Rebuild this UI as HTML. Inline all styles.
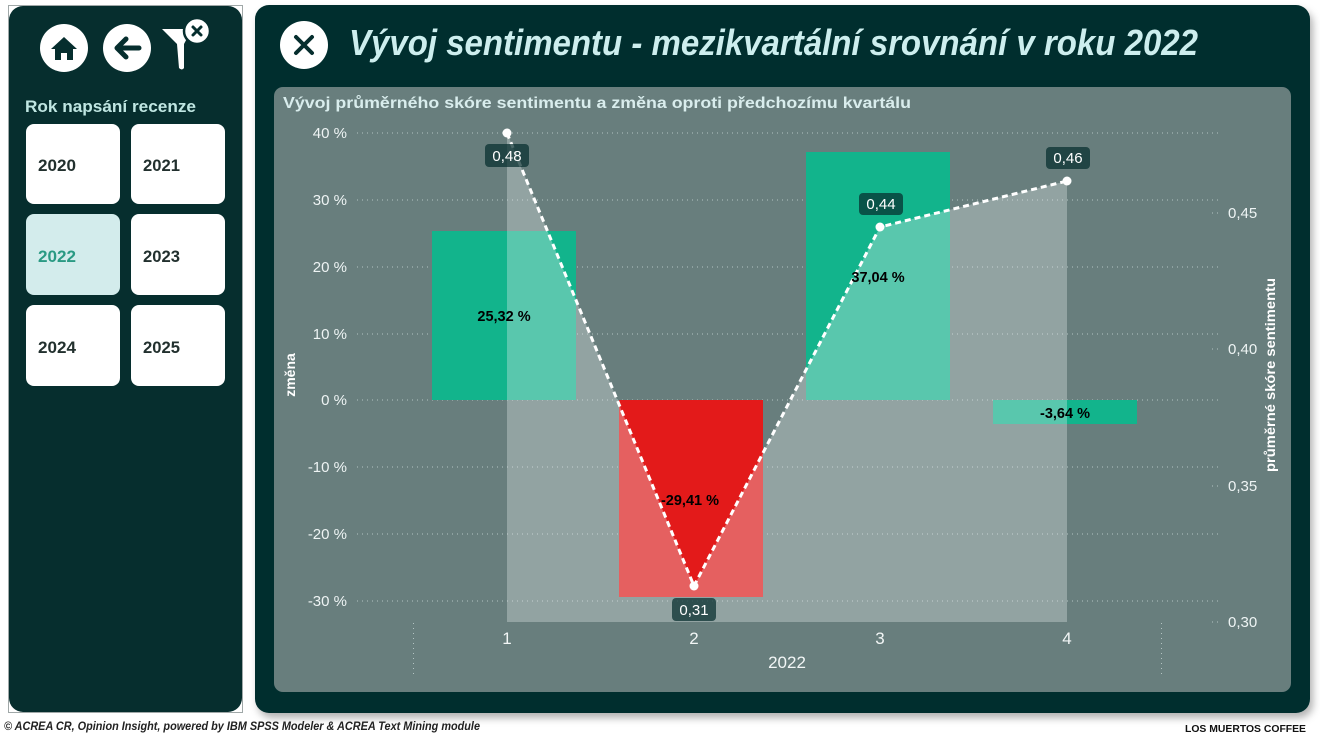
<!DOCTYPE html>
<html><head><meta charset="utf-8">
<style>
html,body{margin:0;padding:0;background:#fff;}
svg{display:block;}
text{font-family:"Liberation Sans",sans-serif;}
</style></head>
<body>
<svg width="1320" height="737" viewBox="0 0 1320 737" xmlns="http://www.w3.org/2000/svg">
<defs>
<filter id="sh" x="-5%" y="-5%" width="110%" height="115%">
<feDropShadow dx="3" dy="5" stdDeviation="4" flood-color="#000" flood-opacity="0.3"/>
</filter>
</defs>
<rect width="1320" height="737" fill="#ffffff"/>

<!-- Left panel -->
<rect x="8.5" y="5.5" width="234" height="707" fill="none" stroke="#a0a8a8" stroke-width="1"/>
<rect x="9" y="6" width="233" height="706" rx="14" fill="#062e2e"/>

<!-- home icon -->
<circle cx="64" cy="48" r="24" fill="#ffffff"/>
<path d="M51 49 L64 37 L77 49 L73 49 L73 60 L67 60 L67 53 L61 53 L61 60 L55 60 L55 49 Z" fill="#062e2e"/>
<!-- back icon -->
<circle cx="127" cy="48" r="24" fill="#ffffff"/>
<path d="M139 48 L118 48 M126 39 L117 48 L126 57" stroke="#062e2e" stroke-width="5" fill="none" stroke-linecap="round" stroke-linejoin="round"/>
<!-- filter icon -->
<path d="M162 29 L192 29 L184 44 L184 68 Q182 71 179 68 L177 44 Z" fill="#ffffff"/>
<circle cx="197" cy="31" r="13" fill="#ffffff" stroke="#062e2e" stroke-width="2.5"/>
<path d="M193 27 L201 35 M201 27 L193 35" stroke="#062e2e" stroke-width="3" stroke-linecap="round"/>

<text x="25" y="112" font-size="17" font-weight="bold" fill="#bfe6e2" textLength="171" lengthAdjust="spacingAndGlyphs">Rok napsání recenze</text>

<rect x="26" y="124" width="94" height="80" rx="8" fill="#ffffff"/>
<rect x="131" y="124" width="94" height="80" rx="8" fill="#ffffff"/>
<rect x="26" y="214" width="94" height="81" rx="8" fill="#d3ecec"/>
<rect x="131" y="214" width="94" height="81" rx="8" fill="#ffffff"/>
<rect x="26" y="305" width="94" height="81" rx="8" fill="#ffffff"/>
<rect x="131" y="305" width="94" height="81" rx="8" fill="#ffffff"/>
<g font-size="17" font-weight="bold" fill="#22302e">
<text x="38" y="171" textLength="38" lengthAdjust="spacingAndGlyphs">2020</text>
<text x="143" y="171" textLength="37" lengthAdjust="spacingAndGlyphs">2021</text>
<text x="38" y="262" textLength="38" lengthAdjust="spacingAndGlyphs" fill="#2a9a84">2022</text>
<text x="143" y="262" textLength="37" lengthAdjust="spacingAndGlyphs">2023</text>
<text x="38" y="353" textLength="38" lengthAdjust="spacingAndGlyphs">2024</text>
<text x="143" y="353" textLength="37" lengthAdjust="spacingAndGlyphs">2025</text>
</g>

<!-- Main panel -->
<rect x="255" y="5" width="1055" height="708" rx="14" fill="#062e2e" filter="url(#sh)"/>
<circle cx="304" cy="45" r="24" fill="#ffffff"/>
<path d="M296 37 L312 53 M312 37 L296 53" stroke="#062e2e" stroke-width="4" stroke-linecap="round"/>
<text x="349" y="55" font-size="36" font-style="italic" font-weight="bold" fill="#cdeeee" textLength="849" lengthAdjust="spacingAndGlyphs">Vývoj sentimentu - mezikvartální srovnání v roku 2022</text>

<!-- Chart card -->
<rect x="274" y="87" width="1017" height="605" rx="9" fill="#687e7d"/>
<text x="283" y="108" font-size="15.5" font-weight="bold" fill="#d9eded" textLength="628" lengthAdjust="spacingAndGlyphs">Vývoj průměrného skóre sentimentu a změna oproti předchozímu kvartálu</text>

<!-- gridlines -->
<g stroke="#c8d6d5" stroke-width="1" stroke-dasharray="1,4" opacity="0.8">
<line x1="357" y1="133" x2="1218" y2="133"/>
<line x1="357" y1="200" x2="1218" y2="200"/>
<line x1="357" y1="267" x2="1218" y2="267"/>
<line x1="357" y1="334" x2="1218" y2="334"/>
<line x1="357" y1="400" x2="1218" y2="400"/>
<line x1="357" y1="467" x2="1218" y2="467"/>
<line x1="357" y1="534" x2="1218" y2="534"/>
<line x1="357" y1="601" x2="1218" y2="601"/>
<line x1="413.5" y1="623" x2="413.5" y2="678"/>
<line x1="1161.5" y1="623" x2="1161.5" y2="678"/>
<line x1="1212" y1="213" x2="1218" y2="213"/>
<line x1="1212" y1="349" x2="1218" y2="349"/>
<line x1="1212" y1="486" x2="1218" y2="486"/>
<line x1="1212" y1="622" x2="1218" y2="622"/>
</g>

<!-- left axis labels -->
<g font-size="15" fill="#eef4f4" text-anchor="end">
<text x="347" y="138">40 %</text>
<text x="347" y="205">30 %</text>
<text x="347" y="272">20 %</text>
<text x="347" y="339">10 %</text>
<text x="347" y="405">0 %</text>
<text x="347" y="472">-10 %</text>
<text x="347" y="539">-20 %</text>
<text x="347" y="606">-30 %</text>
</g>
<text transform="translate(295,375) rotate(-90)" font-size="14" font-weight="bold" fill="#ffffff" text-anchor="middle">změna</text>

<!-- right axis labels -->
<g font-size="15" fill="#eef4f4">
<text x="1228" y="218">0,45</text>
<text x="1228" y="354">0,40</text>
<text x="1228" y="491">0,35</text>
<text x="1228" y="627">0,30</text>
</g>
<text transform="translate(1275,375) rotate(-90)" font-size="14" font-weight="bold" fill="#ffffff" text-anchor="middle" textLength="194" lengthAdjust="spacingAndGlyphs">průměrné skóre sentimentu</text>

<!-- bars -->
<rect x="432" y="231" width="144" height="169" fill="#12b48c"/>
<rect x="619" y="400" width="144" height="197" fill="#e31a1a"/>
<rect x="806" y="152" width="144" height="248" fill="#12b48c"/>
<rect x="993" y="400" width="144" height="24" fill="#12b48c"/>

<!-- area -->
<polygon points="507,622 507,133 694,586 880,227 1067,181 1067,622" fill="rgb(235,240,240)" fill-opacity="0.33"/>

<!-- line -->
<polyline points="507,133 694,586 880,227 1067,181" fill="none" stroke="#ffffff" stroke-width="3" stroke-dasharray="6,4" stroke-linejoin="round"/>
<g fill="#ffffff">
<circle cx="507" cy="133" r="4.5"/>
<circle cx="694" cy="586" r="4.5"/>
<circle cx="880" cy="227" r="4.5"/>
<circle cx="1067" cy="181" r="4.5"/>
</g>

<!-- bar labels -->
<g font-size="14.5" font-weight="bold" fill="#000000" text-anchor="middle">
<text x="504" y="321">25,32 %</text>
<text x="690" y="505">-29,41 %</text>
<text x="878" y="282">37,04 %</text>
<text x="1065" y="418">-3,64 %</text>
</g>

<!-- value labels -->
<g fill="#062e2e" fill-opacity="0.72">
<rect x="485" y="144" width="44" height="23" rx="4"/>
<rect x="672" y="598" width="44" height="23" rx="4"/>
<rect x="859" y="193" width="44" height="22" rx="4"/>
<rect x="1046" y="147" width="44" height="22" rx="4"/>
</g>
<g font-size="15" fill="#ffffff" text-anchor="middle">
<text x="507" y="161">0,48</text>
<text x="694" y="615">0,31</text>
<text x="881" y="209">0,44</text>
<text x="1068" y="163">0,46</text>
</g>

<!-- x axis -->
<g font-size="17" fill="#f2f6f6" text-anchor="middle">
<text x="507" y="644">1</text>
<text x="694" y="644">2</text>
<text x="880" y="644">3</text>
<text x="1067" y="644">4</text>
<text x="787" y="668">2022</text>
</g>

<!-- footer -->
<text x="4" y="730" font-size="11.5" font-style="italic" font-weight="bold" fill="#222" textLength="476" lengthAdjust="spacingAndGlyphs">© ACREA CR, Opinion Insight, powered by IBM SPSS Modeler &amp; ACREA Text Mining module</text>
<text x="1185" y="732" font-size="10" font-weight="bold" fill="#111" textLength="121" lengthAdjust="spacingAndGlyphs">LOS MUERTOS  COFFEE</text>
</svg>
</body></html>
